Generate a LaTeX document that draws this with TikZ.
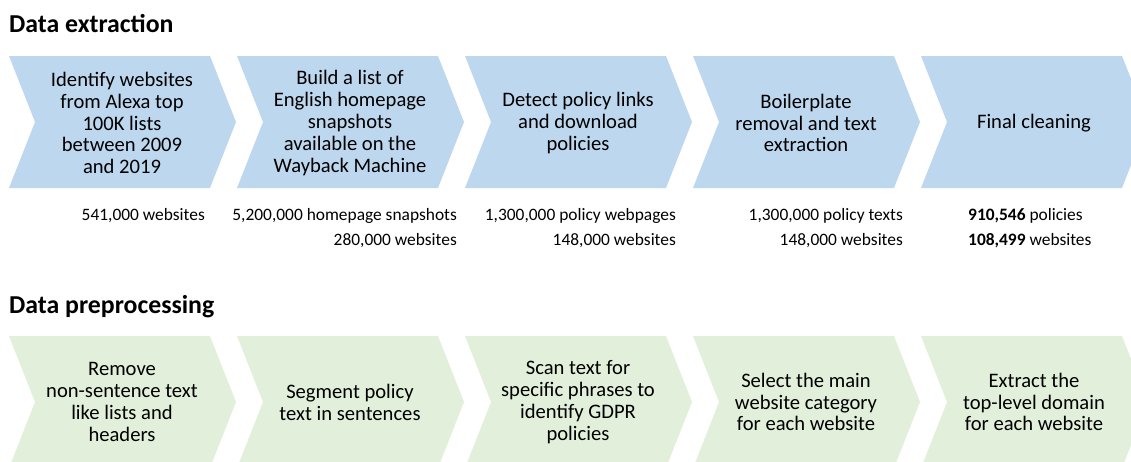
\documentclass[tikz,border=0pt]{standalone}
\usepackage{fontspec}
\setmainfont{Carlito}
\definecolor{chevblue}{HTML}{BDD7EE}
\definecolor{chevgreen}{HTML}{E2EFDA}
\tikzset{
  chevshape/.pic={\fill (0,0) -- (201,0) -- (227,66) -- (201,132) -- (0,132) -- (26,66) -- cycle;},
  steptext/.style={align=center, inner sep=0pt, font=\fontsize{20.6}{21.9}\selectfont},
  stattext/.style={inner sep=0pt, font=\fontsize{17.4}{20}\selectfont},
  titletext/.style={inner sep=0pt, anchor=base west, font=\fontsize{25.8}{30}\selectfont\bfseries},
}
\begin{document}
\begin{tikzpicture}[x=1pt, y=-1pt]
\useasboundingbox (0,0) rectangle (1131,461);
\clip (0,0) rectangle (1131,461);
\node[titletext] (t1) at (9,32) {Data extraction};
\node[titletext] (t2) at (9,313) {Data preprocessing};
% chevrons
\foreach \x in {9,237,465,693,921} {
  \pic[fill=chevblue] at (\x,56) {chevshape};
  \pic[fill=chevgreen] at (\x,336) {chevshape};
}
\node[steptext] (b1) at (122,123) {Identify websites\\from Alexa top\\100K lists\\between 2009\\and 2019};
\node[steptext] (b2) at (350,123) {Build a list of\\English homepage\\snapshots\\available on the\\Wayback Machine};
\node[steptext] (b3) at (578,123) {Detect policy links\\and download\\policies};
\node[steptext] (b4) at (806,123) {Boilerplate\\removal and text\\extraction};
\node[steptext] (b5) at (1034,123) {Final cleaning};
% stats
\node[stattext, anchor=base east] (s1a) at (205,220) {541,000 websites};
\node[stattext, anchor=base east] (s2a) at (457,220) {5,200,000 homepage snapshots};
\node[stattext, anchor=base east] (s2b) at (457,245) {280,000 websites};
\node[stattext, anchor=base east] (s3a) at (676,220) {1,300,000 policy webpages};
\node[stattext, anchor=base east] (s3b) at (676,245) {148,000 websites};
\node[stattext, anchor=base east] (s4a) at (903,220) {1,300,000 policy texts};
\node[stattext, anchor=base east] (s4b) at (903,245) {148,000 websites};
\node[stattext, anchor=base west] (s5a) at (968,220) {\textbf{910,546} policies};
\node[stattext, anchor=base west] (s5b) at (968,245) {\textbf{108,499} websites};
% green
\node[steptext] (g1) at (122,402) {Remove\\non-sentence text\\like lists and\\headers};
\node[steptext] (g2) at (350,402) {Segment policy\\text in sentences};
\node[steptext] (g3) at (578,402) {Scan text for\\specific phrases to\\identify GDPR\\policies};
\node[steptext] (g4) at (806,402) {Select the main\\website category\\for each website};
\node[steptext] (g5) at (1034,402) {Extract the\\top-level domain\\for each website};
\end{tikzpicture}
\end{document}
